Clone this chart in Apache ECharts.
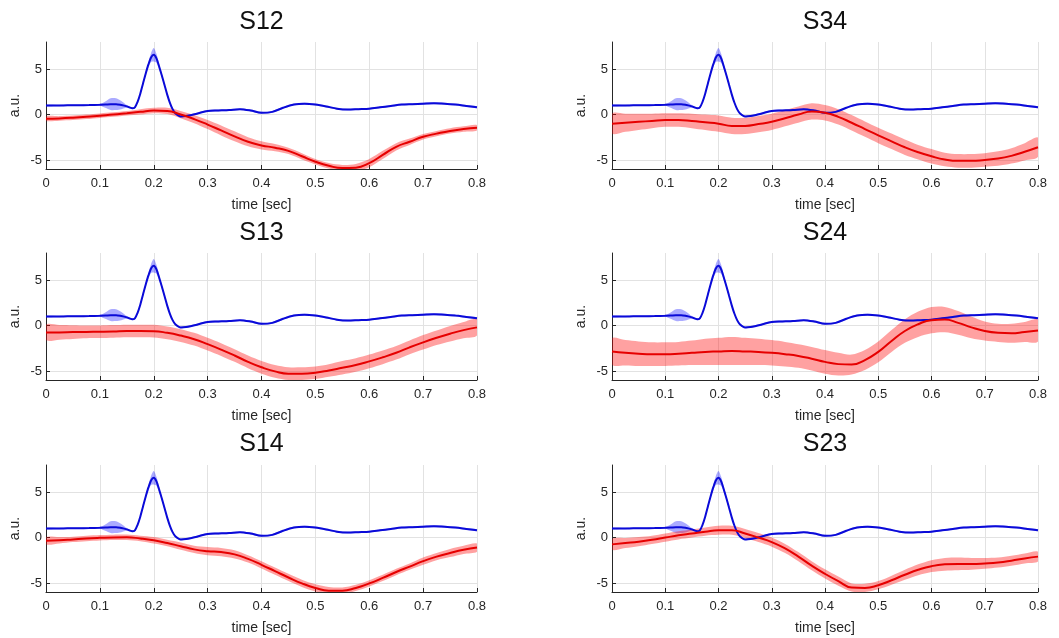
<!DOCTYPE html>
<html><head><meta charset="utf-8">
<script src="https://cdn.jsdelivr.net/npm/echarts@6/dist/echarts.min.js"></script>
<style>html,body{margin:0;padding:0;background:#fff}#c{width:1059px;height:638px}</style>
</head><body><div id="c"></div>
<script>
// ---------- data ----------
const panelTitles = ['S12', 'S34', 'S13', 'S24', 'S14', 'S23'];
const xTicks = [0, 0.1, 0.2, 0.3, 0.4, 0.5, 0.6, 0.7, 0.8];
const yTicks = [-5, 0, 5];

// blue trace (same in every panel)
const blueX = [0,0.02,0.04,0.06,0.08,0.1,0.11,0.12,0.13,0.14,0.15,0.16,0.165,0.17,0.175,0.18,0.185,0.19,0.195,0.2,0.205,0.21,0.215,0.22,0.225,0.23,0.235,0.24,0.25,0.26,0.28,0.3,0.32,0.34,0.36,0.38,0.4,0.42,0.44,0.46,0.48,0.5,0.52,0.54,0.56,0.58,0.6,0.62,0.64,0.66,0.68,0.7,0.72,0.74,0.76,0.78,0.8];
const blueY = [1.0,1.0,1.02,1.03,1.05,1.08,1.1,1.15,1.15,1.05,0.9,0.7,0.8,1.4,2.3,3.4,4.5,5.5,6.3,6.6,6.2,5.3,4.3,3.25,2.2,1.3,0.6,0.15,-0.2,-0.15,0.1,0.4,0.45,0.5,0.6,0.45,0.2,0.3,0.75,1.1,1.2,1.1,0.9,0.65,0.55,0.6,0.65,0.8,0.95,1.1,1.15,1.2,1.25,1.2,1.1,0.95,0.8];
const blueHalf = [0.08,0.08,0.08,0.08,0.08,0.1,0.35,0.65,0.65,0.45,0.15,0.1,0.1,0.1,0.12,0.15,0.2,0.3,0.5,0.75,0.5,0.3,0.2,0.15,0.12,0.1,0.1,0.1,0.1,0.1,0.1,0.1,0.1,0.1,0.1,0.1,0.1,0.1,0.1,0.1,0.1,0.1,0.1,0.1,0.1,0.1,0.1,0.1,0.1,0.1,0.1,0.1,0.1,0.1,0.1,0.1,0.1];

// red traces
const redX = [0,0.025,0.05,0.075,0.1,0.125,0.15,0.175,0.2,0.225,0.25,0.275,0.3,0.325,0.35,0.375,0.4,0.425,0.45,0.475,0.5,0.525,0.55,0.575,0.6,0.625,0.65,0.675,0.7,0.725,0.75,0.775,0.8];
const redS12 = [-0.45,-0.42,-0.35,-0.25,-0.12,0.0,0.15,0.3,0.44,0.4,0.0,-0.5,-1.1,-1.75,-2.4,-3.0,-3.4,-3.65,-4.0,-4.6,-5.2,-5.65,-5.9,-5.85,-5.35,-4.45,-3.55,-3.0,-2.45,-2.1,-1.8,-1.6,-1.46];
const bandS12 = [0.25,0.25,0.25,0.25,0.25,0.25,0.25,0.3,0.3,0.35,0.4,0.45,0.5,0.55,0.55,0.5,0.45,0.4,0.35,0.35,0.3,0.3,0.35,0.4,0.45,0.45,0.4,0.35,0.3,0.3,0.3,0.3,0.3];
const redS34 = [-1.0,-0.9,-0.8,-0.7,-0.6,-0.6,-0.7,-0.85,-1.0,-1.25,-1.25,-1.05,-0.8,-0.4,0.0,0.35,0.2,-0.25,-0.9,-1.6,-2.3,-2.95,-3.6,-4.15,-4.6,-4.95,-5.1,-5.1,-5.0,-4.85,-4.55,-4.1,-3.6];
const bandS34 = [1.1,1.0,0.9,0.8,0.75,0.75,0.8,0.85,0.9,0.9,0.9,0.9,0.9,0.9,0.9,0.9,0.85,0.85,0.85,0.85,0.85,0.85,0.85,0.8,0.8,0.75,0.75,0.75,0.75,0.8,0.85,0.95,1.05];
const redS13 = [-0.75,-0.75,-0.72,-0.7,-0.68,-0.65,-0.6,-0.6,-0.62,-0.8,-1.1,-1.5,-2.05,-2.65,-3.3,-4.0,-4.6,-5.05,-5.3,-5.3,-5.2,-4.95,-4.65,-4.35,-3.95,-3.5,-3.0,-2.4,-1.85,-1.35,-0.9,-0.5,-0.2];
const bandS13 = [0.85,0.8,0.75,0.7,0.7,0.7,0.7,0.7,0.7,0.7,0.7,0.7,0.7,0.7,0.7,0.7,0.7,0.7,0.7,0.7,0.7,0.7,0.75,0.75,0.75,0.75,0.75,0.75,0.8,0.8,0.85,0.9,0.9];
const redS24 = [-2.85,-3.0,-3.1,-3.15,-3.15,-3.1,-3.0,-2.9,-2.85,-2.8,-2.85,-2.9,-3.0,-3.15,-3.35,-3.65,-4.0,-4.25,-4.3,-3.8,-2.9,-1.7,-0.6,0.15,0.6,0.66,0.3,-0.2,-0.6,-0.8,-0.85,-0.7,-0.55];
const bandS24 = [1.45,1.4,1.35,1.3,1.3,1.3,1.35,1.45,1.5,1.55,1.5,1.45,1.4,1.35,1.3,1.3,1.3,1.25,1.1,1.1,1.15,1.2,1.3,1.4,1.45,1.4,1.3,1.2,1.05,1.0,1.05,1.1,1.2];
const redS14 = [-0.35,-0.3,-0.2,-0.1,-0.03,0.02,0.03,-0.1,-0.3,-0.6,-0.95,-1.3,-1.5,-1.6,-1.85,-2.35,-3.0,-3.7,-4.4,-5.05,-5.55,-5.85,-5.85,-5.55,-5.05,-4.45,-3.8,-3.2,-2.6,-2.1,-1.7,-1.35,-1.1];
const bandS14 = [0.4,0.35,0.3,0.3,0.3,0.3,0.3,0.3,0.35,0.35,0.4,0.4,0.45,0.45,0.45,0.4,0.4,0.4,0.4,0.4,0.4,0.4,0.35,0.35,0.35,0.35,0.35,0.35,0.4,0.4,0.45,0.45,0.45];
const redS23 = [-0.75,-0.6,-0.45,-0.25,0.0,0.25,0.45,0.65,0.8,0.8,0.45,0.0,-0.5,-1.2,-2.1,-3.1,-4.0,-4.8,-5.5,-5.55,-5.25,-4.7,-4.1,-3.55,-3.15,-2.95,-2.9,-2.9,-2.85,-2.75,-2.55,-2.3,-2.1];
const bandS23 = [0.6,0.55,0.5,0.45,0.45,0.45,0.45,0.45,0.5,0.5,0.5,0.5,0.5,0.5,0.5,0.5,0.5,0.5,0.45,0.45,0.45,0.5,0.55,0.6,0.65,0.7,0.7,0.65,0.6,0.55,0.55,0.55,0.55];

const redSeries = [redS12, redS34, redS13, redS24, redS14, redS23];
const redBands = [bandS12, bandS34, bandS13, bandS24, bandS14, bandS23];

// ---------- layout / style ----------
const FONT = '"Liberation Sans", Arial, Helvetica, sans-serif';
const AX = '#262626';
const colLeft = [46, 612];
const colWidth = [431, 426];
const rowTop = [42, 253, 465];
const plotH = 127;
const titleTop = [10, 221, 432];

const grids = [], xAxes = [], yAxes = [], titles = [], series = [];

function bandSeries(gi, xs, ys, hs, color, z) {
  return {
    type: 'custom', xAxisIndex: gi, yAxisIndex: gi, z: z, silent: true, animation: false,
    data: [[xs[0], ys[0]]],
    renderItem: function (params, api) {
      const up = [], lo = [];
      for (let i = 0; i < xs.length; i++) {
        up.push(api.coord([xs[i], ys[i] + hs[i]]));
        lo.push(api.coord([xs[i], ys[i] - hs[i]]));
      }
      const cs = params.coordSys;
      return {
        type: 'polygon',
        shape: { points: up.concat(lo.reverse()), smooth: 0.3 },
        style: { fill: color },
        clipPath: { type: 'rect', shape: { x: cs.x, y: cs.y, width: cs.width, height: cs.height } }
      };
    }
  };
}
function lineSeries(gi, xs, ys, color, z, smooth) {
  return {
    type: 'line', xAxisIndex: gi, yAxisIndex: gi, z: z, silent: true, animation: false,
    data: xs.map((x, i) => [x, ys[i]]),
    symbol: 'none', showSymbol: false, smooth: smooth,
    lineStyle: { color: color, width: 2 }
  };
}

for (let gi = 0; gi < 6; gi++) {
  const col = gi % 2, row = Math.floor(gi / 2);
  grids.push({ left: colLeft[col], top: rowTop[row], width: colWidth[col], height: plotH, containLabel: false });
  titles.push({
    text: panelTitles[gi], left: colLeft[col] + colWidth[col] / 2, top: titleTop[row], textAlign: 'center', padding: 0,
    textStyle: { fontFamily: FONT, fontSize: 25, fontWeight: 'normal', color: '#111' }
  });
  xAxes.push({
    gridIndex: gi, type: 'value', min: 0, max: 0.8, interval: 0.1,
    name: 'time [sec]', nameLocation: 'middle', nameGap: 29,
    nameTextStyle: { fontFamily: FONT, fontSize: 14, color: AX },
    axisLine: { show: true, onZero: false, lineStyle: { color: AX, width: 1 } },
    axisTick: { show: true, inside: true, length: 4, lineStyle: { color: AX } },
    axisLabel: { fontFamily: FONT, fontSize: 13, color: AX, margin: 8,
      formatter: v => String(Math.round(v * 10) / 10) },
    splitLine: { show: true, lineStyle: { color: '#e2e2e2', width: 1 } }
  });
  yAxes.push({
    gridIndex: gi, type: 'value', min: -6, max: 8,
    name: 'a.u.', nameLocation: 'middle', nameGap: 24, nameRotate: 90,
    nameTextStyle: { fontFamily: FONT, fontSize: 14, color: AX },
    axisLine: { show: true, onZero: false, lineStyle: { color: AX, width: 1 } },
    axisTick: { show: true, inside: true, length: 4, customValues: yTicks, lineStyle: { color: AX } },
    axisLabel: { fontFamily: FONT, fontSize: 13, color: AX, margin: 4, customValues: yTicks },
    splitLine: { show: true, lineStyle: { color: '#e2e2e2', width: 1 } }
  });
  series.push(bandSeries(gi, blueX, blueY, blueHalf, 'rgba(0,0,255,0.33)', 1));
  series.push(bandSeries(gi, redX, redSeries[gi], redBands[gi], 'rgba(255,0,0,0.37)', 2));
  series.push(lineSeries(gi, blueX, blueY, '#0a0ad8', 3, 0.3));
  series.push(lineSeries(gi, redX, redSeries[gi], '#e60000', 4, 0.5));
}

const chart = echarts.init(document.getElementById('c'), null, { renderer: 'canvas' });
chart.setOption({
  animation: false,
  backgroundColor: '#ffffff',
  title: titles,
  grid: grids,
  xAxis: xAxes,
  yAxis: yAxes,
  series: series
});
</script>
</body></html>
